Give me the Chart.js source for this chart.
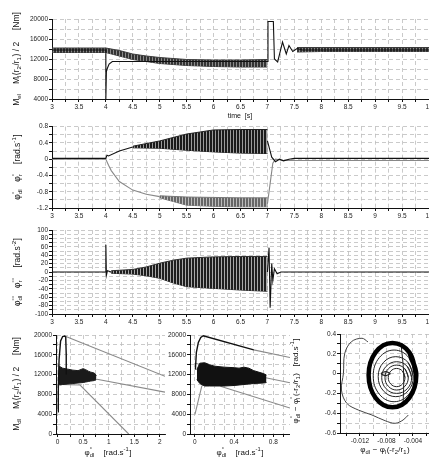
<!DOCTYPE html>
<html><head><meta charset="utf-8">
<script src="https://cdn.jsdelivr.net/npm/chart.js@4.4.1/dist/chart.umd.min.js"></script>
<style>
html,body{margin:0;padding:0;background:#fff;}
body{width:429px;height:460px;position:relative;overflow:hidden;}
canvas{position:absolute;}
</style></head><body>
<canvas id="c1" width="429" height="122" style="left:0;top:0"></canvas>
<canvas id="c2" width="429" height="106" style="left:0;top:118px"></canvas>
<canvas id="c3" width="429" height="108" style="left:0;top:222px"></canvas>
<canvas id="c4" width="168" height="132" style="left:0;top:328px"></canvas>
<canvas id="c5" width="122" height="132" style="left:168px;top:328px"></canvas>
<canvas id="c6" width="143" height="132" style="left:286px;top:328px"></canvas>
<script>
// ---- panel 1: torque vs time [s] ----
const p1BandT  = [3, 4, 4.25, 4.5, 4.75, 5, 5.5, 6, 6.5, 7];
const p1BandHi = [14200, 14200, 13700, 13000, 12600, 12300, 11900, 11800, 11800, 11900];
const p1BandLo = [13300, 13300, 12600, 11900, 11500, 11100, 10700, 10500, 10400, 10400];
const p1TailT  = [7.55, 8, 9, 10];
const p1TailHi = [14300, 14300, 14300, 14300];
const p1TailLo = [13400, 13500, 13500, 13500];
const p1ElT = [3, 4, 4, 4.01, 4.03, 4.06, 4.12, 7, 7.01, 7.11, 7.13, 7.19, 7.28, 7.35, 7.4, 7.47, 7.55, 7.65, 10];
const p1El  = [13800, 13800, 4000, 9500, 10200, 11000, 11500, 11500, 19500, 19500, 12000, 11400, 15400, 13000, 14700, 13500, 14100, 13800, 13800];

// ---- panel 2: speeds ----
const p2DlT = [3, 4, 4.02, 4.05, 4.25, 4.5];
const p2Dl  = [0.02, 0.02, 0.1, 0.08, 0.2, 0.3];
const p2DlBandT = [4.5, 5, 5.5, 6, 6.5, 7];
const p2DlHi = [0.32, 0.45, 0.62, 0.72, 0.73, 0.73];
const p2DlLo = [0.28, 0.27, 0.22, 0.18, 0.15, 0.14];
const p2DlEndT = [7, 7.08, 7.15, 7.22, 7.3, 7.4, 7.5, 10];
const p2DlEnd  = [0.45, 0.05, -0.06, 0.0, -0.04, 0.0, 0.02, 0.02];
const p2RT = [3, 4, 4.05, 4.1, 4.25, 4.5, 4.75, 5];
const p2R  = [0, 0, -0.15, -0.28, -0.55, -0.76, -0.86, -0.92];
const p2RBandT = [5, 5.5, 6, 6.5, 7];
const p2RHi = [-0.9, -0.93, -0.94, -0.95, -0.95];
const p2RLo = [-0.95, -1.13, -1.16, -1.17, -1.17];
const p2REndT = [7, 7.05, 7.1, 7.15, 7.3, 10];
const p2REnd  = [-1.1, -0.6, -0.1, 0.0, -0.03, -0.03];

// ---- panel 3: accelerations ----
const p3T = [3, 4, 4, 4.01, 4.03, 4.1];
const p3  = [0, 0, 65, -8, 3, 0];
const p3BandT = [4.1, 4.5, 4.75, 5, 5.25, 5.5, 6, 6.5, 7];
const p3Hi = [3, 6, 12, 21, 28, 33, 36, 37, 37];
const p3Lo = [-3, -5, -9, -15, -26, -35, -39, -43, -46];
const p3EndT = [7, 7.03, 7.05, 7.08, 7.1, 7.13, 7.18, 7.25, 10];
const p3End  = [0, 58, -85, 20, -20, 8, -4, 0, 0];

// ---- panel 4: torque vs speed ----
const p4PeakX = [0.01, 0.015, 0.03, 0.06, 0.1, 0.14, 0.16, 0.17, 0.17];
const p4PeakY = [4500, 9000, 15000, 18800, 19700, 19800, 19600, 16000, 12000];
const p4AX = [0.14, 2.1],  p4AY = [19800, 11650];
const p4BX = [0.77, 2.1],  p4BY = [11050, 8460];
const p4CX = [0.05, 0.44, 1.39], p4CY = [10000, 9900, 0];
const p4BlobX  = [0.02, 0.05, 0.1, 0.2, 0.3, 0.4, 0.5, 0.55, 0.6, 0.65, 0.72, 0.76];
const p4BlobHi = [13800, 13600, 13300, 13100, 12900, 12800, 13200, 13000, 12700, 12500, 12300, 11800];
const p4BlobLo = [10000, 9900, 10000, 10100, 10200, 10300, 10400, 10500, 10600, 10700, 10800, 11000];

// ---- panel 5: torque vs speed (zoom) ----
const p5PeakX = [0.005, 0.015, 0.035, 0.06, 0.085, 0.6];
const p5PeakY = [13000, 16500, 18500, 19500, 19850, 17000];
const p5AX = [0.6, 0.97],  p5AY = [17000, 15450];
const p5BX = [0.0, 0.97],  p5BY = [14300, 10340];
const p5CX = [0.26, 0.97], p5CY = [9660, 5240];
const p5DX = [0.0, 0.07, 0.15], p5DY = [3900, 9660, 11700];
const p5BlobX  = [0.02, 0.05, 0.1, 0.15, 0.2, 0.3, 0.4, 0.45, 0.5, 0.55, 0.6, 0.7, 0.73];
const p5BlobHi = [13000, 14300, 14400, 14000, 13700, 13500, 13400, 13300, 13500, 13300, 12800, 12200, 11900];
const p5BlobLo = [11000, 10200, 9700, 9700, 9700, 9700, 9800, 9900, 10000, 10100, 10200, 10300, 10400];

// ---- panel 6: phase portrait ----
const p6OuterX = [-0.0035, -0.00455, -0.0071, -0.00965, -0.0107, -0.00965, -0.0071, -0.00455, -0.0035, -0.00455];
const p6OuterY = [-0.015, 0.215, 0.31, 0.215, -0.015, -0.245, -0.34, -0.245, -0.015, 0.215];
const p6R1X = [-0.0037, -0.00462, -0.00685, -0.00908, -0.01, -0.00908, -0.00685, -0.00462, -0.0037, -0.00462];
const p6R1Y = [-0.023, 0.162, 0.238, 0.162, -0.023, -0.208, -0.284, -0.208, -0.023, 0.162];
const p6R2X = [-0.00395, -0.00473, -0.0066, -0.00847, -0.00925, -0.00847, -0.0066, -0.00473, -0.00395, -0.00473];
const p6R2Y = [-0.031, 0.112, 0.171, 0.112, -0.031, -0.174, -0.233, -0.174, -0.031, 0.112];
const p6R3X = [-0.0042, -0.00486, -0.00646, -0.00806, -0.00872, -0.00806, -0.00646, -0.00486, -0.0042, -0.00486];
const p6R3Y = [-0.04, 0.073, 0.12, 0.073, -0.04, -0.153, -0.2, -0.153, -0.04, 0.073];
const p6R4X = [-0.00471, -0.00523, -0.00647, -0.00771, -0.00823, -0.00771, -0.00647, -0.00523, -0.00471, -0.00523];
const p6R4Y = [-0.04, 0.049, 0.086, 0.049, -0.04, -0.129, -0.166, -0.129, -0.04, 0.049];
const p6R5X = [-0.00521, -0.00558, -0.00647, -0.00736, -0.00773, -0.00736, -0.00647, -0.00558, -0.00521, -0.00558];
const p6R5Y = [-0.04, 0.025, 0.052, 0.025, -0.04, -0.105, -0.132, -0.105, -0.04, 0.025];
const p6CoreX = [-0.0074, -0.0081, -0.0088, -0.0081, -0.0074];
const p6CoreY = [0.0, 0.02, 0.0, -0.02, 0.0];
const p6VertX = [-0.0058, -0.0054, -0.0055];
const p6VertY = [0.30, 0.0, -0.33];
const p6TransX = [-0.0108, -0.0117, -0.0133, -0.0143, -0.0145, -0.0148, -0.014, -0.01225, -0.0102, -0.0082, -0.0067, -0.0055, -0.0047];
const p6TransY = [0.32, 0.357, 0.322, 0.205, 0.003, -0.166, -0.3, -0.368, -0.418, -0.476, -0.502, -0.469, -0.418];

const el = id => document.getElementById(id);
const FONT = 'Arial, "Liberation Sans", sans-serif';
const xy = (xs, ys) => xs.map((x, i) => ({x, y: ys[i]}));
const line = (xs, ys, color, w, tension) => ({data: xy(xs, ys), borderColor: color, borderWidth: w || 1.1, fill: false, pointRadius: 0, tension: tension || 0});

// vertical stripes so filled bands look like a dense oscillation
function stripes(dark, light) {
  const c = document.createElement('canvas');
  c.width = 3; c.height = 2;
  const g = c.getContext('2d');
  g.fillStyle = light; g.fillRect(0, 0, 3, 2);
  g.fillStyle = dark; g.fillRect(0, 0, 2, 2);
  return g.createPattern(c, 'repeat');
}
const band = (xs, hi, lo, color, fillStyle) => [
  {data: xy(xs, hi), borderColor: color, backgroundColor: fillStyle || color, borderWidth: 1, fill: '+1', pointRadius: 0},
  {data: xy(xs, lo), borderColor: color, borderWidth: 1, fill: false, pointRadius: 0}
];

function fmt(v, every) {
  const k = v / every;
  if (Math.abs(k - Math.round(k)) > 1e-6) return '';
  if (Math.abs(v) < 1e-9) return '0';
  return String(parseFloat(v.toFixed(4)));
}

function axis(s, dir) {
  return {
    type: 'linear', min: s.min, max: s.max,
    grid: {color: '#bdbdbd', lineWidth: 0.8, tickColor: '#111', tickLength: 3, tickBorderDash: [], tickWidth: 1},
    border: {display: true, color: '#111', width: 1, dash: [4, 3]},
    ticks: {stepSize: s.step, autoSkip: false, maxRotation: 0, includeBounds: false, padding: 1,
      color: '#222', font: {size: 6.5, family: FONT}, callback: v => fmt(v, s.every)},
    afterFit: sc => {
      if (dir === 'x') sc.height = s.size; else sc.width = s.size;
      sc.paddingLeft = sc.paddingRight = sc.paddingTop = sc.paddingBottom = 0;
    }
  };
}

// text with sub/superscripts; parts are strings or {sup, sub}
function richText(ctx, parts, x, y, size, vertical) {
  const main = size + 'px ' + FONT;
  const small = (size * 0.72).toFixed(1) + 'px ' + FONT;
  ctx.save();
  ctx.fillStyle = '#111';
  const pieces = parts.map(p => {
    if (typeof p === 'string') { ctx.font = main; return {t: p, w: ctx.measureText(p).width}; }
    ctx.font = small;
    const w = Math.max(p.sub ? ctx.measureText(p.sub).width : 0, p.sup ? ctx.measureText(p.sup).width : 0);
    return {p, w: w + 0.5};
  });
  const total = pieces.reduce((a, b) => a + b.w, 0);
  ctx.translate(x, y);
  if (vertical) ctx.rotate(-Math.PI / 2);
  let cx = -total / 2;
  const base = size * 0.35;
  pieces.forEach(pc => {
    if (pc.t !== undefined) { ctx.font = main; ctx.fillText(pc.t, cx, base); }
    else {
      ctx.font = small;
      if (pc.p.sup) ctx.fillText(pc.p.sup, cx, base - size * 0.42);
      if (pc.p.sub) ctx.fillText(pc.p.sub, cx, base + size * 0.28);
    }
    cx += pc.w;
  });
  ctx.restore();
}

function panel(id, datasets, xs, ys, pad, titles) {
  return new Chart(el(id), {
    type: 'line',
    data: {datasets},
    options: {
      responsive: false, animation: false, devicePixelRatio: 1,
      layout: {padding: pad},
      plugins: {legend: {display: false}, tooltip: {enabled: false}},
      scales: {x: axis(xs, 'x'), y: axis(ys, 'y')}
    },
    plugins: [{id: 'titles', afterDraw: c => titles.forEach(t => richText(c.ctx, t.parts, t.x, t.y, t.size || 8, t.v))}]
  });
}

const radS1 = ['[rad.s', {sup: '-1'}, ']'];

panel('c1', [
  line(p1ElT, p1El, '#111', 1.1),
  ...band(p1BandT, p1BandHi, p1BandLo, '#3c3c3c', stripes('#333', '#8a8a8a')),
  ...band(p1TailT, p1TailHi, p1TailLo, '#3c3c3c', stripes('#333', '#8a8a8a'))
], {min: 3, max: 10, step: 0.25, every: 0.5, size: 23},
   {min: 4000, max: 20000, step: 2000, every: 4000, size: 52},
   {top: 19, right: 0, left: 0, bottom: 0},
   [{parts: ['M', {sub: 'el'}, '    M', {sub: 'l'}, '(r', {sub: '2'}, '/r', {sub: '1'}, ') / 2     [Nm]'], x: 16, y: 59, v: true, size: 8.5},
    {parts: ['time  [s]'], x: 240, y: 116, size: 7}]);

panel('c2', [
  line(p2DlT, p2Dl, '#111', 1.1),
  line(p2DlEndT, p2DlEnd, '#111', 1.1),
  ...band(p2DlBandT, p2DlHi, p2DlLo, '#222', stripes('#1a1a1a', '#9a9a9a')),
  line(p2RT, p2R, '#888', 1.1),
  line(p2REndT, p2REnd, '#888', 1.1),
  ...band(p2RBandT, p2RHi, p2RLo, '#777', stripes('#666', '#bbbbbb'))
], {min: 3, max: 10, step: 0.25, every: 0.5, size: 16},
   {min: -1.2, max: 0.8, step: 0.2, every: 0.4, size: 52},
   {top: 8.7, right: 0, left: 0, bottom: 0},
   [{parts: ['φ', {sup: '°', sub: 'dl'}, '   φ', {sup: '°', sub: 'r'}, '    ', ...radS1], x: 17, y: 49, v: true, size: 8.5}]);

panel('c3', [
  line(p3T, p3, '#111', 1.1),
  line(p3EndT, p3End, '#111', 1.1),
  ...band(p3BandT, p3Hi, p3Lo, '#2e2e2e', stripes('#1e1e1e', '#a8a8a8'))
], {min: 3, max: 10, step: 0.25, every: 0.5, size: 16},
   {min: -100, max: 100, step: 10, every: 20, size: 52},
   {top: 8, right: 0, left: 0, bottom: 0},
   [{parts: ['φ', {sup: '°°', sub: 'dl'}, '   φ', {sup: '°°', sub: 'r'}, '    [rad.s', {sup: '-2'}, ']'], x: 17, y: 50, v: true, size: 8.5}]);

panel('c4', [
  line(p4PeakX, p4PeakY, '#111', 1.4),
  ...band(p4BlobX, p4BlobHi, p4BlobLo, '#1a1a1a'),
  line(p4AX, p4AY, '#8a8a8a', 1.1),
  line(p4BX, p4BY, '#8a8a8a', 1.1),
  line(p4CX, p4CY, '#8a8a8a', 1.1)
], {min: -0.03, max: 2.1, step: 0.25, every: 0.5, size: 26},
   {min: 0, max: 20000, step: 2000, every: 4000, size: 56},
   {top: 7, right: 3, left: 0, bottom: 0},
   [{parts: ['M', {sub: 'dl'}, '    M', {sub: 'l'}, '(r', {sub: '2'}, '/r', {sub: '1'}, ') / 2     [Nm]'], x: 16, y: 56, v: true, size: 8.5},
    {parts: ['φ', {sup: '°', sub: 'dl'}, '    ', ...radS1], x: 108, y: 124, size: 8}]);

panel('c5', [
  line(p5PeakX, p5PeakY, '#111', 1.4),
  ...band(p5BlobX, p5BlobHi, p5BlobLo, '#111'),
  line(p5AX, p5AY, '#8a8a8a', 1.1),
  line(p5BX, p5BY, '#8a8a8a', 1.1),
  line(p5CX, p5CY, '#8a8a8a', 1.1),
  line(p5DX, p5DY, '#8a8a8a', 1.1)
], {min: -0.05, max: 0.97, step: 0.1, every: 0.4, size: 26},
   {min: 0, max: 20000, step: 2000, every: 4000, size: 22},
   {top: 7, right: 0, left: 0, bottom: 0},
   [{parts: ['φ', {sup: '°', sub: 'dl'}, '    ', ...radS1], x: 72, y: 124, size: 8}]);

panel('c6', [
  line(p6OuterX, p6OuterY, '#000', 4.5, 0.4),
  line(p6R1X, p6R1Y, '#222', 1, 0.4),
  line(p6R2X, p6R2Y, '#222', 1, 0.4),
  line(p6R3X, p6R3Y, '#222', 1, 0.4),
  line(p6R4X, p6R4Y, '#222', 1, 0.4),
  line(p6R5X, p6R5Y, '#222', 1, 0.4),
  line(p6CoreX, p6CoreY, '#222', 1.2, 0.4),
  line(p6VertX, p6VertY, '#222', 1, 0.3),
  line(p6TransX, p6TransY, '#444', 1, 0.35)
], {min: -0.01502, max: -0.00158, step: 0.002, every: 0.004, size: 27},
   {min: -0.6, max: 0.4, step: 0.1, every: 0.2, size: 54},
   {top: 6, right: 0, left: 0, bottom: 0},
   [{parts: ['φ', {sup: '°', sub: 'dl'}, ' − φ', {sup: '°', sub: 'l'}, '(-r', {sub: '2'}, '/r', {sub: '1'}, ')   ', ...radS1], x: 9, y: 53, v: true, size: 8},
    {parts: ['φ', {sub: 'dl'}, ' − φ', {sub: 'l'}, '(-r', {sub: '2'}, '/r', {sub: '1'}, ')'], x: 99, y: 121, size: 8}]);
</script>
</body></html>
